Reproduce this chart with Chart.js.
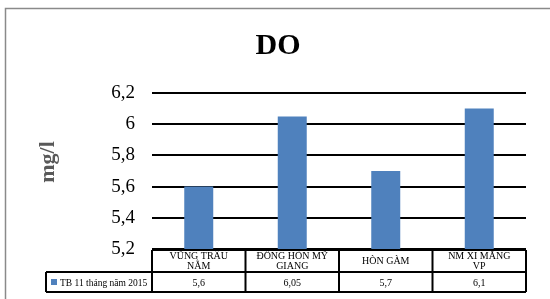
<!DOCTYPE html>
<html>
<head>
<meta charset="utf-8">
<script src="https://cdn.jsdelivr.net/npm/chart.js@4"></script>
<style>
  html, body { margin: 0; padding: 0; background: #fff; }
  #wrap { width: 550px; height: 299px; }
</style>
</head>
<body>
<div id="wrap"><canvas id="doChart" width="550" height="299"></canvas></div>
<script>
const categories = [['VŨNG TRÂU', 'NẰM'], ['ĐỒNG HÒN MỸ', 'GIANG'], ['HÒN GÀM'], ['NM XI MĂNG', 'VP']];
const seriesName = 'TB 11 tháng năm 2015';
const doValues = [5.6, 6.05, 5.7, 6.1];
const yTitle = 'mg/l';

const fmt = v => String(Math.round(v * 100) / 100).replace('.', ',');
const serif = '"Liberation Serif", "DejaVu Serif", serif';

// khung xám bên ngoài, tiêu đề trục y, bảng dữ liệu dưới trục x
const frameAndTable = {
  id: 'frameAndTable',
  beforeDraw(chart) {
    const c = chart.ctx;
    c.save();
    c.strokeStyle = '#8a8a8a';
    c.lineWidth = 1.5;
    c.strokeRect(5.5, 8.5, 700, 400);
    c.restore();
  },
  afterDraw(chart) {
    const c = chart.ctx;
    const xs = chart.scales.x;
    const area = chart.chartArea;
    const half = (xs.getPixelForValue(1) - xs.getPixelForValue(0)) / 2;
    const edges = categories.map((_, i) => xs.getPixelForValue(i) - half);
    edges.push(xs.getPixelForValue(categories.length - 1) + half);
    const y0 = area.bottom + 1, y1 = y0 + 22, y2 = y1 + 20;
    const left = 46;

    c.save();
    // tiêu đề trục y
    c.translate(48, 162);
    c.rotate(-Math.PI / 2);
    c.fillStyle = '#595959';
    c.font = 'bold 22px ' + serif;
    c.textAlign = 'center';
    c.textBaseline = 'middle';
    c.fillText(yTitle, 0, 0);
    c.restore();

    c.save();
    c.strokeStyle = '#000';
    c.lineWidth = 2;
    c.beginPath();
    c.moveTo(edges[0], y0); c.lineTo(edges[edges.length - 1], y0);
    c.moveTo(left, y1); c.lineTo(edges[edges.length - 1], y1);
    c.moveTo(left, y2); c.lineTo(edges[edges.length - 1], y2);
    edges.forEach(x => { c.moveTo(x, y0); c.lineTo(x, y2); });
    c.moveTo(left, y1); c.lineTo(left, y2);
    c.stroke();

    c.fillStyle = '#000';
    c.textAlign = 'center';
    c.textBaseline = 'middle';
    categories.forEach((lab, i) => {
      const cx = xs.getPixelForValue(i);
      const lines = Array.isArray(lab) ? lab : [lab];
      c.font = '10px ' + serif;
      const start = (y0 + y1) / 2 + 0.5 - (lines.length - 1) * 5;
      lines.forEach((t, k) => c.fillText(t, cx, start + k * 10));
      c.fillText(fmt(doValues[i]), cx, (y1 + y2) / 2 + 1);
    });

    c.fillStyle = '#4F81BD';
    c.fillRect(left + 5, (y1 + y2) / 2 - 3, 6, 6);
    c.fillStyle = '#000';
    c.textAlign = 'left';
    c.font = '9.5px ' + serif;
    c.fillText(seriesName, left + 14, (y1 + y2) / 2 + 1);
    c.restore();
  }
};

new Chart(document.getElementById('doChart'), {
  type: 'bar',
  data: {
    labels: categories,
    datasets: [{
      label: seriesName,
      data: doValues,
      backgroundColor: '#4F81BD',
      barPercentage: 0.31,
      categoryPercentage: 1
    }]
  },
  options: {
    responsive: false,
    animation: false,
    layout: {
      padding: { left: 30, right: 24, top: 0, bottom: 50 }
    },
    scales: {
      x: { display: false },
      y: {
        min: 5.2,
        max: 6.2,
        afterFit: s => { s.width = 122; },
        ticks: {
          stepSize: 0.2,
          padding: 17,
          color: '#000',
          font: { family: serif, size: 19 },
          callback: v => fmt(v)
        },
        grid: { color: '#000', lineWidth: 2, drawTicks: false },
        border: { display: false }
      }
    },
    plugins: {
      legend: { display: false },
      tooltip: { enabled: false },
      title: {
        display: true,
        text: 'DO',
        color: '#000',
        font: { family: serif, size: 30, weight: 'bold', lineHeight: 1.2 },
        padding: { top: 28, bottom: 29 }
      }
    }
  },
  plugins: [frameAndTable]
});
</script>
</body>
</html>
